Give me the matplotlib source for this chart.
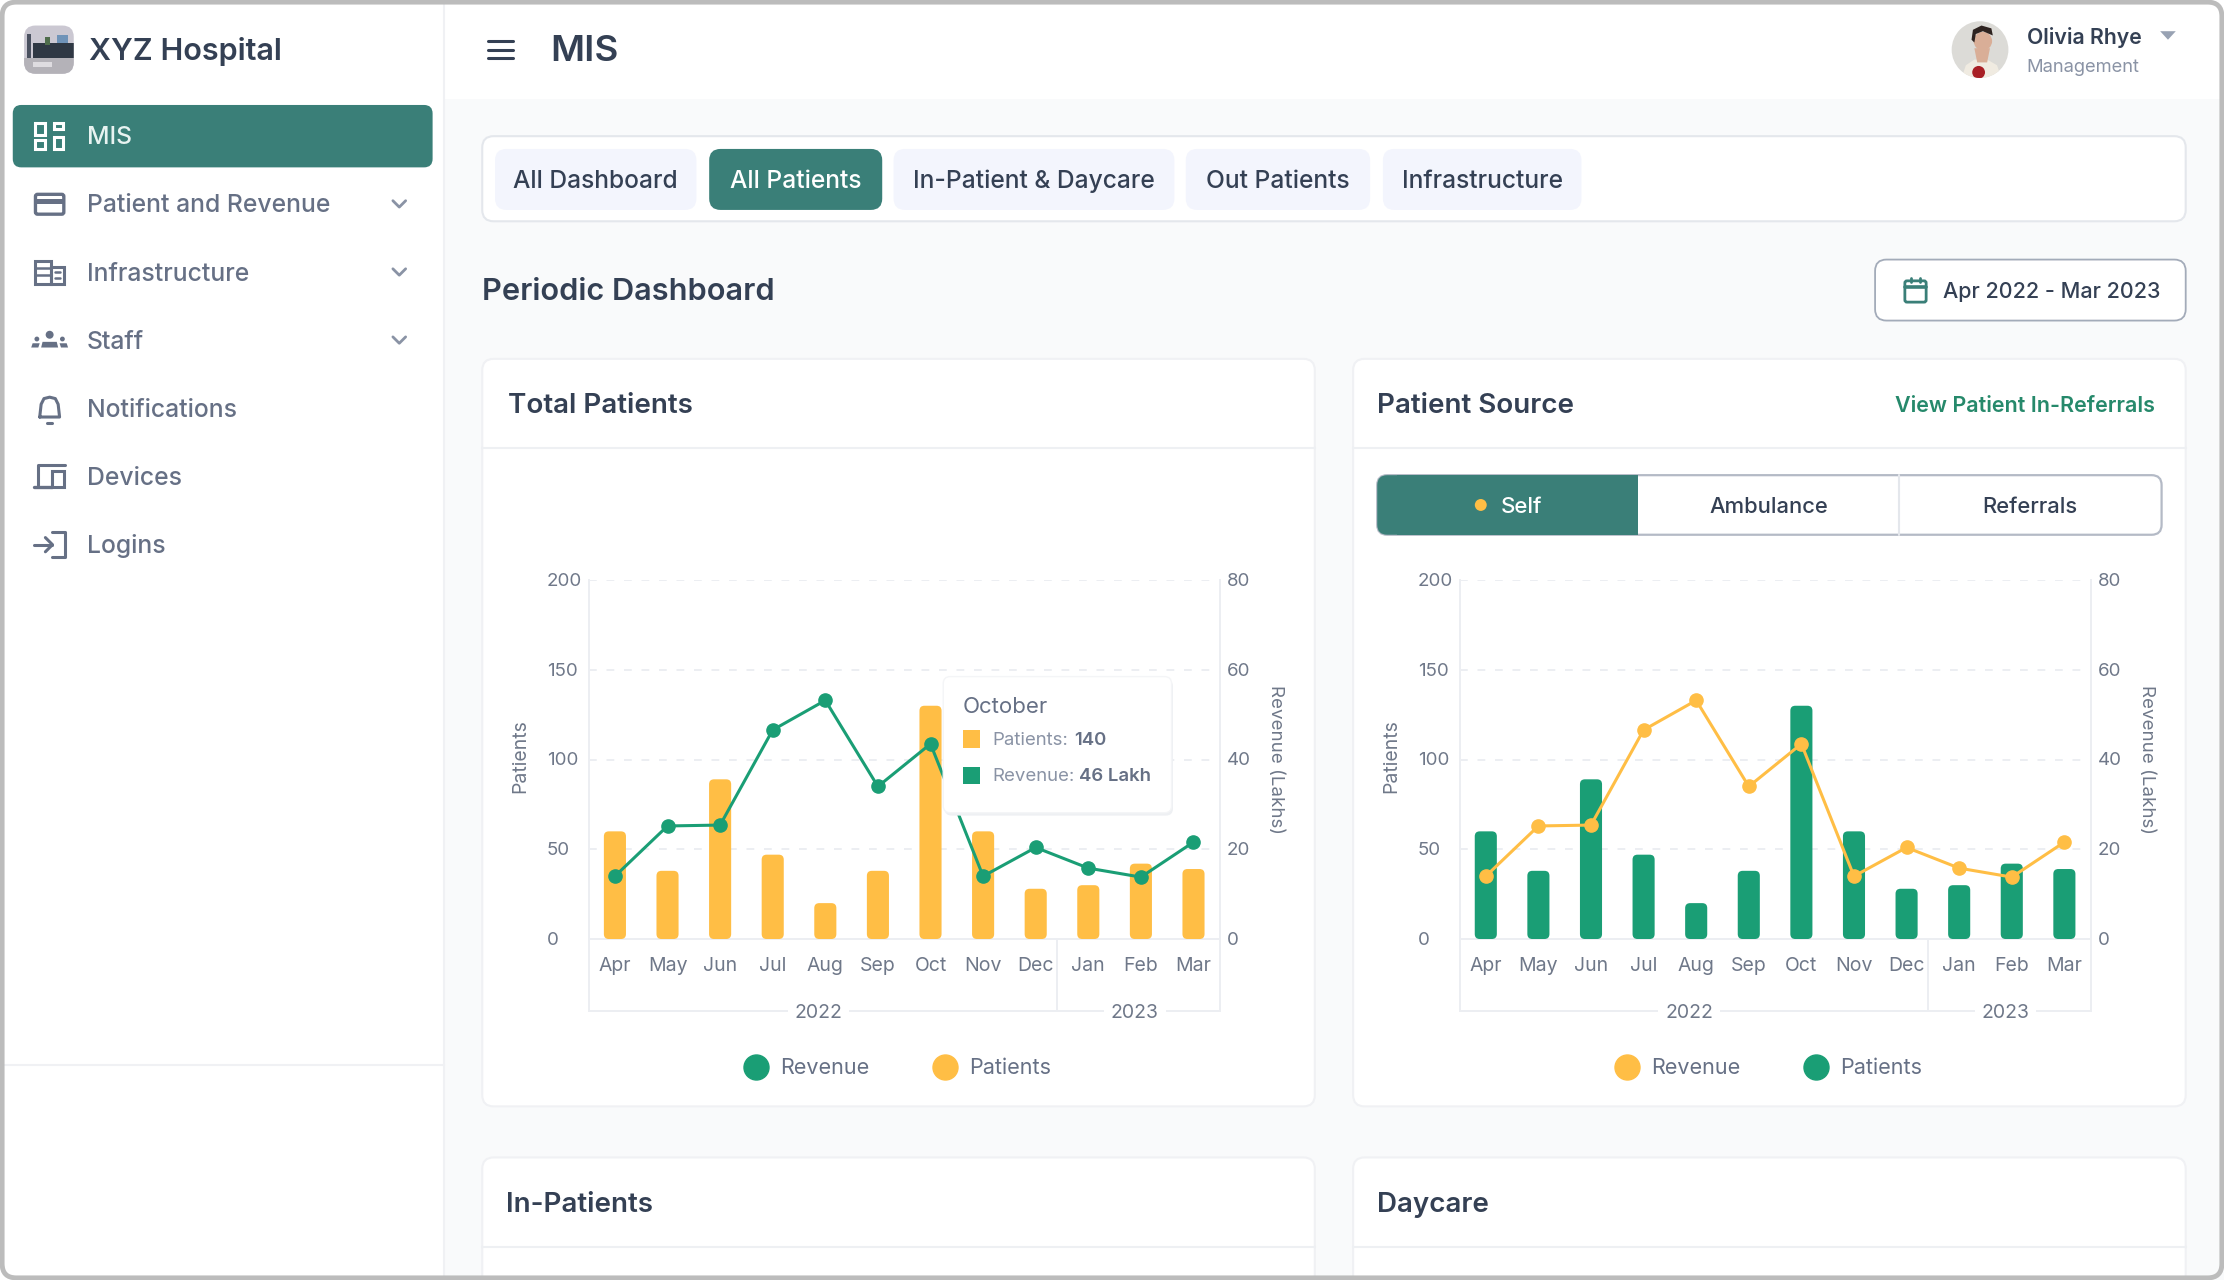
import matplotlib
matplotlib.use('Agg')
import matplotlib.pyplot as plt
from matplotlib.patches import FancyBboxPatch, Rectangle, Circle, Polygon
from matplotlib.lines import Line2D
from matplotlib.transforms import ScaledTranslation

plt.rcParams['font.family'] = ['Inter', 'DejaVu Sans']

# values
months = ['Apr', 'May', 'Jun', 'Jul', 'Aug', 'Sep', 'Oct', 'Nov', 'Dec', 'Jan', 'Feb', 'Mar']
patients = [60, 38, 89, 47, 20, 38, 130, 60, 28, 30, 42, 39]
revenue = [14, 25.2, 25.4, 46.6, 53.2, 34, 43.5, 14, 20.4, 15.8, 13.8, 21.6]
patient_ticks = [0, 50, 100, 150, 200]
revenue_ticks = [0, 20, 40, 60, 80]
nav_items = ['Patient and Revenue', 'Infrastructure', 'Staff', 'Notifications', 'Devices', 'Logins']
tabs = ['All Dashboard', 'All Patients', 'In-Patient & Daycare', 'Out Patients', 'Infrastructure']

W, H = 1568, 902.4
TEAL = '#3a7f78'
GREEN = '#1a9e75'
AMBER = '#ffbe45'
DARK = '#344054'
GRAY = '#667085'
TICK = '#6f7889'
LINE = '#eceef2'

fig = plt.figure(figsize=(22.24, 12.8), dpi=100, facecolor='white')


def page_axes(zorder):
    a = fig.add_axes([0, 0, 1, 1], zorder=zorder)
    a.set_xlim(0, W)
    a.set_ylim(H, 0)
    a.axis('off')
    a.patch.set_alpha(0)
    return a


ui = page_axes(0)
top = page_axes(5)


def rbox(x0, y0, x1, y1, r=0, fc='white', ec='none', lw=1, a=None, z=1):
    p = FancyBboxPatch((x0, y0), x1 - x0, y1 - y0, boxstyle='round,pad=0,rounding_size=%s' % r,
                       fc=fc, ec=ec, lw=lw, zorder=z)
    (a or ui).add_patch(p)
    return p


def txt(x, y, s, size=17, color=DARK, weight='normal', ha='left', a=None, **kw):
    # va center sits a little high for this font
    return (a or ui).text(x, y + 1.7, s, fontsize=size, color=color, fontweight=weight, ha=ha, va='center', zorder=4, **kw)


def seg(xs, ys, color=GRAY, lw=2, a=None):
    (a or ui).plot(xs, ys, color=color, lw=lw, solid_capstyle='round', solid_joinstyle='round', zorder=3)


# page panels
ui.add_patch(Rectangle((0, 0), W, H, fc='#f9fafb', ec='none'))
ui.add_patch(Rectangle((0, 0), 313, H, fc='white', ec='none'))
ui.add_patch(Rectangle((313, 0), W - 313, 70, fc='white', ec='none'))
seg([313, 313], [0, H], '#f0f1f4', 1.5)
seg([0, 313], [751, 751], '#f0f1f4', 1.5)

# logo
logo = rbox(17, 18, 52, 52, 8, fc='#cbc8d2')
for box in [Rectangle((17, 41), 35, 11, fc='#b4b2b8'), Rectangle((23, 30), 30, 11, fc='#2f3844'),
            Rectangle((19, 24), 3, 17, fc='#4a5160'), Rectangle((32, 26), 3, 6, fc='#4f6d4c'),
            Rectangle((40, 25), 8, 5, fc='#6f93b8'), Rectangle((23, 44), 14, 3, fc='#dedce0')]:
    ui.add_patch(box)
    box.set_zorder(2)
    box.set_clip_path(logo)
txt(63, 34.5, 'XYZ Hospital', 22, DARK, 'semibold')

# sidebar
rbox(9, 74, 305, 118, 6, fc=TEAL)
txt(61, 95.5, 'MIS', 17.8, '#e8f3f1', 'medium')
for (x0, y0, x1, y1) in [(25, 87, 32, 95), (38, 87, 44.5, 91), (25, 99, 32, 105), (38, 96.5, 44.5, 105)]:
    ui.add_patch(Rectangle((x0, y0), x1 - x0, y1 - y0, fc='none', ec='white', lw=2.2, zorder=3))
for i, item in enumerate(nav_items):
    y = 144 + i * 48
    txt(61, y - 0.5, item, 17.8, GRAY, 'medium')
    if i < 3:
        seg([277, 281.5, 286], [y - 2.5, y + 2, y - 2.5], '#8a93a5', 2)

# nav icons
rbox(25, 137, 45, 151, 1.5, fc='none', ec=GRAY, lw=2.4, z=3)
ui.add_patch(Rectangle((25, 140), 20, 3.5, fc=GRAY, ec='none', zorder=3))
ui.add_patch(Rectangle((25, 184), 11, 16, fc='none', ec=GRAY, lw=2.2, zorder=3))
ui.add_patch(Rectangle((36, 188), 9, 12, fc='none', ec=GRAY, lw=2.2, zorder=3))
seg([25, 36], [189, 189], GRAY, 1.8)
seg([25, 36], [194, 194], GRAY, 1.8)
seg([39, 42], [192, 192], GRAY, 1.8)
seg([39, 42], [196, 196], GRAY, 1.8)
for cx, cy, r in [(35, 236, 2.8), (26, 239, 1.7), (44, 239, 1.7)]:
    ui.add_patch(Circle((cx, cy), r, fc=GRAY, ec='none', zorder=3))
ui.add_patch(Polygon([(29, 245), (30, 241), (40, 241), (41, 245)], fc=GRAY, ec='none', zorder=3))
ui.add_patch(Polygon([(22, 245), (23, 242), (28, 242), (27, 245)], fc=GRAY, ec='none', zorder=3))
ui.add_patch(Polygon([(43, 245), (42, 242), (47, 242), (48, 245)], fc=GRAY, ec='none', zorder=3))
seg([28, 29, 31, 35, 39, 41, 42, 28], [294, 285, 281, 280, 281, 285, 294, 294], GRAY, 2.2)
seg([33, 37], [298, 298], GRAY, 2.2)
seg([27, 27, 46], [342, 328, 328], GRAY, 2.2)
seg([24, 37], [343, 343], GRAY, 2.4)
ui.add_patch(Rectangle((37, 332), 8, 11, fc='none', ec=GRAY, lw=2.2, zorder=3))
seg([24, 37], [384, 384], GRAY, 2.2)
seg([32, 37, 32], [379, 384, 389], GRAY, 2.2)
seg([37, 46, 46, 37], [375, 375, 393, 393], GRAY, 2.2)

# header
for y in [29, 35, 41]:
    seg([344, 362], [y, y], DARK, 2.2)
txt(388, 34.5, 'MIS', 26.5, DARK, 'semibold')
face = Circle((1396, 35), 20, fc='#dcdbd7', ec='none', zorder=2)
ui.add_patch(face)
for part in [Polygon([(1382, 58), (1386, 46), (1392, 42), (1401, 42), (1408, 46), (1412, 58)],
                     fc='#f0ebe1', ec='none', zorder=3),
             Polygon([(1392, 34), (1394, 44), (1401, 44), (1403, 34)], fc='#d9ae97', ec='none', zorder=3),
             Circle((1398, 29), 6.5, fc='#d9ae97', ec='none', zorder=3),
             Polygon([(1390, 28), (1391, 21), (1397, 18), (1404, 20), (1405, 25), (1398, 22), (1393, 24), (1392, 30)],
                     fc='#2e2320', ec='none', zorder=3),
             Circle((1395, 51), 4.5, fc='#a81f25', ec='none', zorder=3)]:
    ui.add_patch(part)
    part.set_clip_path(face)
txt(1429, 25, 'Olivia Rhye', 15.3, DARK, 'semibold')
txt(1429, 46, 'Management', 13.2, '#8a93a5')
ui.add_patch(Polygon([(1523, 22), (1534, 22), (1528.5, 28)], fc='#98a2b3', ec='none', zorder=3))

# tab strip
rbox(340, 96, 1541, 156, 8, fc='white', ec='#e4e7ec', lw=1.5)
tab_x = [(349, 491), (500, 622), (630, 828), (836, 966), (975, 1115)]
for i, (name, (x0, x1)) in enumerate(zip(tabs, tab_x)):
    active = name == 'All Patients'
    rbox(x0, 105, x1, 148, 8, fc=TEAL if active else '#f3f5fd', z=2)
    txt((x0 + x1) / 2, 126, name, 17.7, 'white' if active else DARK, 'medium', 'center')

# period row
txt(340, 204.5, 'Periodic Dashboard', 22.1, DARK, 'semibold')
rbox(1322, 183, 1541, 226, 8, fc='white', ec='#a3abb9', lw=1.3)
rbox(1343, 198, 1358, 213, 1.5, fc='none', ec=TEAL, lw=2, z=3)
seg([1343, 1358], [202, 202], TEAL, 2.6)
seg([1347, 1347], [196, 199], TEAL, 2)
seg([1354, 1354], [196, 199], TEAL, 2)
txt(1370, 204, 'Apr 2022 - Mar 2023', 15.5, DARK, 'medium')

# cards
for x0, x1 in [(340, 927), (954, 1541)]:
    rbox(x0, 253, x1, 780, 8, fc='white', ec='#f0f1f4', lw=1.5)
    seg([x0, x1], [316, 316], '#eef0f3', 1.5)
    rbox(x0, 816, x1, 960, 8, fc='white', ec='#f0f1f4', lw=1.5)
    seg([x0, x1], [879, 879], '#eef0f3', 1.5)
txt(358, 284.5, 'Total Patients', 20, DARK, 'semibold')
txt(971, 284.5, 'Patient Source', 20, DARK, 'semibold')
txt(1519, 284.5, 'View Patient In-Referrals', 15.5, '#26896b', 'semibold', 'right')
txt(357, 847.5, 'In-Patients', 20, DARK, 'semibold')
txt(971, 847.5, 'Daycare', 20, DARK, 'semibold')

# segmented control
rbox(971, 335, 1524, 377, 7, fc='white', ec='#b4bac6', lw=1.6)
rbox(971, 335, 1010, 377, 7, fc=TEAL, z=2)
ui.add_patch(Rectangle((985, 335), 170, 42, fc=TEAL, ec='none', zorder=2))
seg([1339, 1339], [335, 377], '#e4e7ec', 1.5)
ui.add_patch(Circle((1044, 356), 4.2, fc=AMBER, ec='none', zorder=3))
txt(1058, 355.5, 'Self', 16, 'white', 'medium')
txt(1247, 355.5, 'Ambulance', 15.8, DARK, 'medium', 'center')
txt(1431, 355.5, 'Referrals', 15.8, DARK, 'medium', 'center')


def draw_chart(x0, x1, bar_color, line_color, z):
    y0, y1 = 409, 662
    ax = fig.add_axes([x0 / W, 1 - y1 / H, (x1 - x0) / W, (y1 - y0) / H], zorder=z)
    ax.patch.set_alpha(0)
    ax.set_xlim(-0.5, 11.5)
    ax.set_ylim(0, 200)
    # corners of the bars are rounded in pixels, so the y radius is stretched to match
    bar_w = 0.42
    x_unit = (x1 - x0) / 12
    y_unit = (y1 - y0) / 200
    radius = 3.5 / x_unit
    for i, v in enumerate(patients):
        ax.add_patch(FancyBboxPatch((i - bar_w / 2, 0), bar_w, v, boxstyle='round,pad=0,rounding_size=%s' % radius,
                                    mutation_aspect=x_unit / y_unit, fc=bar_color, ec='none', zorder=3))
    ax.set_xticks(range(12), months)
    ax.set_yticks(patient_ticks)
    ax.tick_params(axis='x', length=0, pad=13.2, labelsize=14, labelcolor=TICK)
    ax.tick_params(axis='y', length=0, pad=30, labelsize=13.5, labelcolor=TICK)
    nudge = ScaledTranslation(0, -1 / 72, fig.dpi_scale_trans)
    for lab in ax.get_yticklabels():
        lab.set_ha('left')
        lab.set_va('center')
        lab.set_transform(lab.get_transform() + nudge)
    ax.grid(axis='y', color='#eceef2', lw=1.4, ls=(0, (4, 5)))
    ax.set_axisbelow(True)
    for side in ['left', 'right', 'bottom']:
        ax.spines[side].set_color(LINE)
        ax.spines[side].set_linewidth(1.4)
    ax.spines['top'].set_visible(False)
    ax.set_ylabel('Patients', fontsize=14, color=TICK, va='center')
    ax.yaxis.set_label_coords(-0.108, 0.51)

    # month / year grouping under the axis
    tr = ax.get_xaxis_transform()
    low = (662 - 713) / 253
    for x in [-0.5, 8.41, 11.5]:
        ax.plot([x, x], [0, low], transform=tr, color=LINE, lw=1.4, clip_on=False)
    ax.plot([-0.5, 11.5], [low, low], transform=tr, color=LINE, lw=1.4, clip_on=False)
    for x, year in [(3.87, '2022'), (9.88, '2023')]:
        ax.text(x, low - 0.004, year, transform=tr, ha='center', va='center', fontsize=14, color=TICK,
                bbox=dict(fc='white', ec='none', pad=5), clip_on=False)

    ax2 = ax.twinx()
    ax2.set_zorder(z + 1)
    ax2.patch.set_alpha(0)
    ax2.set_ylim(0, 80)
    ax2.set_yticks(revenue_ticks)
    ax2.tick_params(axis='y', length=0, pad=5, labelsize=13.5, labelcolor=TICK)
    for lab in ax2.get_yticklabels():
        lab.set_va('center')
        lab.set_transform(lab.get_transform() + nudge)
    for side in ax2.spines:
        ax2.spines[side].set_visible(False)
    ax2.plot(range(12), revenue, color=line_color, lw=2.2, marker='o', ms=9.5, zorder=4, clip_on=False)
    ax2.set_ylabel('Revenue (Lakhs)', fontsize=13.5, color=TICK, rotation=270, va='center')
    ax2.yaxis.set_label_coords(1.088, 0.5)

    handles = [Line2D([], [], ls='none', marker='o', ms=18, color=line_color),
               Line2D([], [], ls='none', marker='o', ms=18, color=bar_color)]
    ax.legend(handles, ['Revenue', 'Patients'], ncol=2, frameon=False, loc='center',
              bbox_to_anchor=(0.5 - 8 / 445, (662 - 753) / 253), fontsize=15.5, labelcolor=GRAY,
              handletextpad=0.12, columnspacing=2.5)
    return ax


draw_chart(415, 860, AMBER, GREEN, 1)
draw_chart(1029, 1474, GREEN, AMBER, 3)

# tooltip over the first chart
rbox(666, 479, 827, 575, 5, fc='#eef0f3', a=top, z=1)
rbox(665, 477, 826, 573, 5, fc='white', ec='#f4f5f7', lw=1, a=top, z=2)
txt(679, 496.5, 'October', 16, GRAY, a=top)
top.add_patch(Rectangle((679, 515), 12, 12, fc=AMBER, ec='none', zorder=3))
top.add_patch(Rectangle((679, 541), 12, 12, fc=GREEN, ec='none', zorder=3))
txt(700, 520, 'Patients:', 13.4, '#8a93a5', a=top)
txt(757, 520, '140', 13.4, GRAY, 'semibold', a=top)
txt(700, 546, 'Revenue:', 13.4, '#8a93a5', a=top)
txt(761, 546, '46 Lakh', 13.4, GRAY, 'semibold', a=top)

# screenshot frame
rbox(1.5, 1.5, W - 1.5, H - 1.5, 10, fc='none', ec='#bcbcbc', lw=3.5, a=top, z=6)

fig.savefig('out.png', dpi=100, facecolor='white')
